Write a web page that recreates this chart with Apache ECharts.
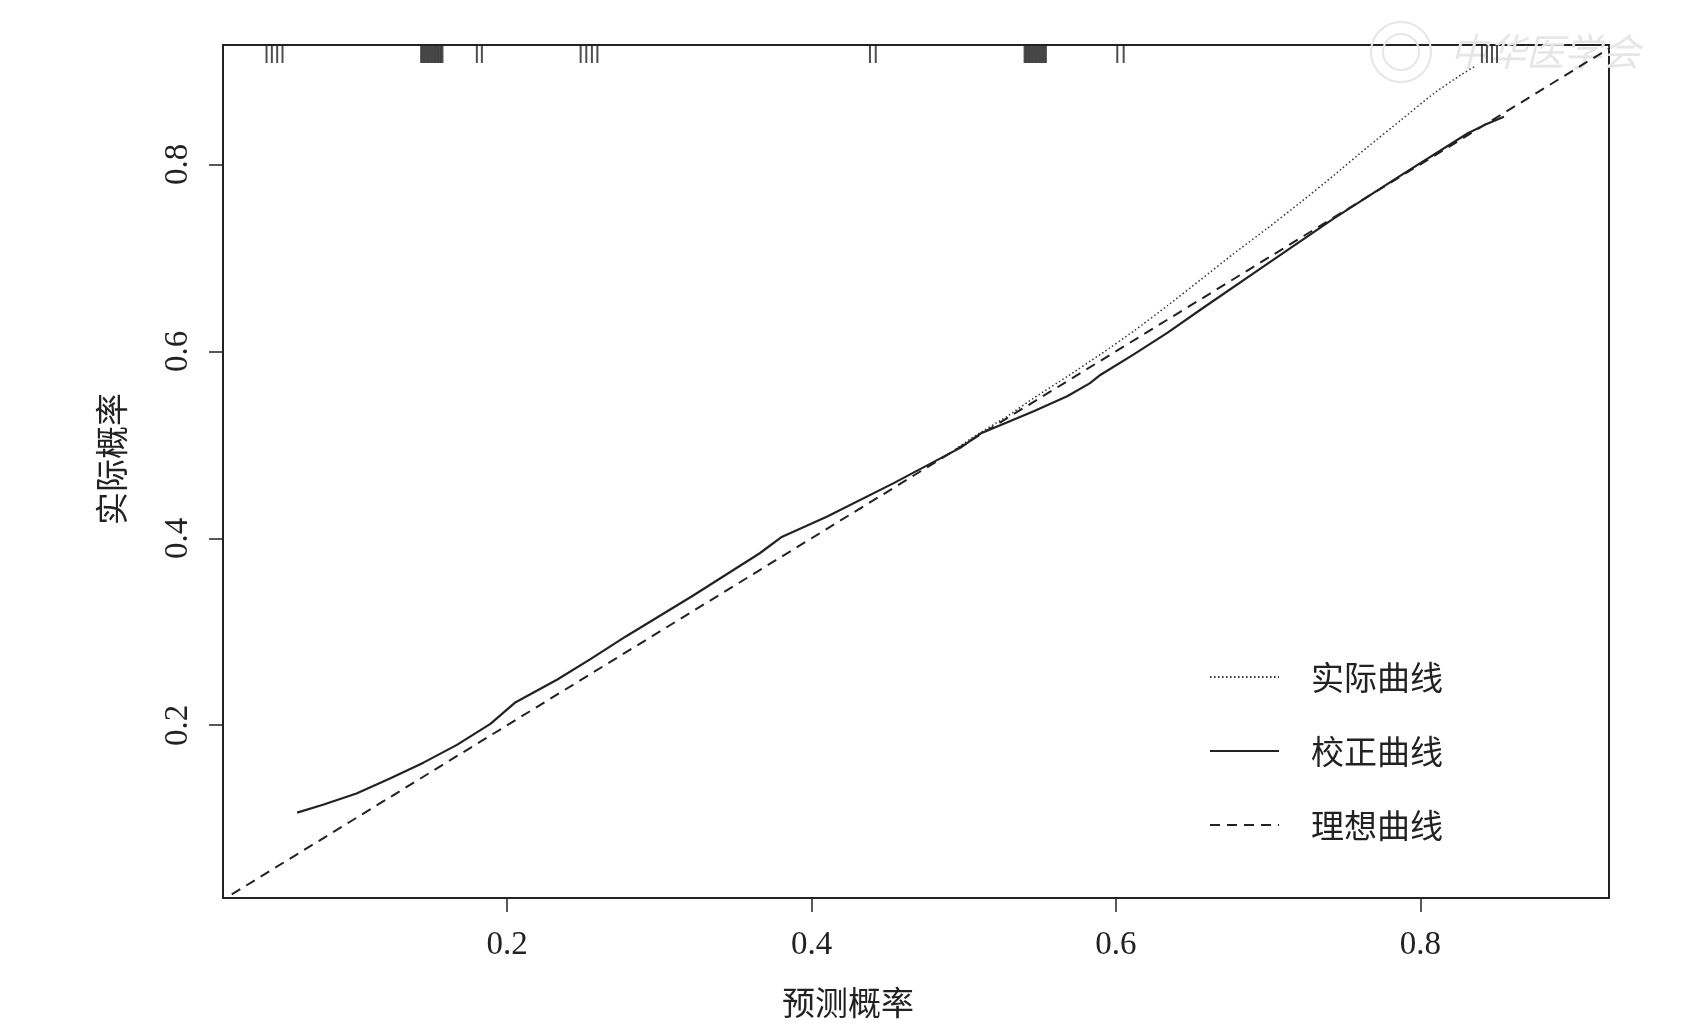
<!DOCTYPE html>
<html>
<head>
<meta charset="utf-8">
<title>校准曲线</title>
<script src="https://cdn.jsdelivr.net/npm/echarts@6/dist/echarts.min.js"></script>
<style>
  html, body { margin: 0; padding: 0; background: #fff; }
  #chart { width: 1690px; height: 1026px; }
</style>
</head>
<body>
<div id="chart"></div>
<script>
// values
const tickValues = [0.2, 0.4, 0.6, 0.8]

const correctedX = [0.062, 0.079, 0.101, 0.123, 0.145, 0.167, 0.189, 0.205, 0.233, 0.255, 0.278, 0.322, 0.366, 0.380, 0.410, 0.454, 0.498, 0.511, 0.546, 0.568, 0.583, 0.590, 0.612, 0.634, 0.656, 0.699, 0.743, 0.787, 0.831, 0.842, 0.855]
const correctedY = [0.1065, 0.115, 0.127, 0.143, 0.160, 0.179, 0.2015, 0.224, 0.249, 0.271, 0.295, 0.3385, 0.384, 0.401, 0.423, 0.459, 0.497, 0.512, 0.536, 0.552, 0.566, 0.575, 0.597, 0.620, 0.645, 0.693, 0.742, 0.788, 0.833, 0.842, 0.851]

const apparentX = [0.490, 0.505, 0.528, 0.546, 0.568, 0.590, 0.612, 0.634, 0.656, 0.677, 0.699, 0.721, 0.743, 0.765, 0.787, 0.809, 0.827, 0.836]
const apparentY = [0.490, 0.507, 0.530, 0.550, 0.573, 0.597, 0.622, 0.649, 0.677, 0.704, 0.731, 0.759, 0.788, 0.818, 0.847, 0.876, 0.896, 0.905]

const idealX = [0, 1]
const idealY = [0, 1]

// rug of predicted probabilities along the top edge
const rugX = [
  0.0419, 0.0454, 0.0489, 0.0524,
  0.1435, 0.1445, 0.1455, 0.1465, 0.1475, 0.1485, 0.1495, 0.1505, 0.1515, 0.1525, 0.1535, 0.1545, 0.1555, 0.1565, 0.1575,
  0.1801, 0.1834,
  0.2483, 0.2520, 0.2557, 0.2593,
  0.4384, 0.4422,
  0.5400, 0.5410, 0.5420, 0.5430, 0.5440, 0.5450, 0.5460, 0.5470, 0.5480, 0.5490, 0.5500, 0.5510, 0.5520, 0.5530, 0.5540,
  0.6009, 0.6051,
  0.8405, 0.8438, 0.8471, 0.8504
]

const xMin = 0.0133
const xMax = 0.924
const yMin = 0.0152
const yMax = 0.9277

const zip = (xs, ys) => xs.map((x, i) => [x, ys[i]])

const serif = '"Liberation Serif", "Times New Roman", serif'
const cjk = '"Noto Sans CJK SC", sans-serif'
const ink = '#222'

const chart = echarts.init(document.getElementById('chart'))

const option = {
  backgroundColor: '#fff',
  animation: false,
  grid: {
    left: 223,
    top: 45,
    right: 81,
    bottom: 128,
    show: true,
    borderColor: ink,
    borderWidth: 2
  },
  legend: {
    orient: 'vertical',
    left: 1204,
    top: 655,
    itemWidth: 69,
    itemHeight: 20,
    itemGap: 40,
    // only the line in the key, no marker
    itemStyle: { opacity: 0 },
    data: ['实际曲线', '校正曲线', '理想曲线'],
    textStyle: {
      fontFamily: cjk,
      fontSize: 33,
      lineHeight: 34,
      color: ink,
      padding: [0, 0, 0, 27]
    }
  },
  xAxis: {
    type: 'value',
    min: xMin,
    max: xMax,
    splitLine: { show: false },
    axisLine: { show: false },
    axisTick: {
      show: true,
      customValues: tickValues,
      length: 14,
      lineStyle: { color: ink, width: 1.5 }
    },
    axisLabel: {
      customValues: tickValues,
      formatter: v => v.toFixed(1),
      margin: 31,
      fontFamily: serif,
      fontSize: 33,
      color: ink
    }
  },
  yAxis: {
    type: 'value',
    min: yMin,
    max: yMax,
    splitLine: { show: false },
    axisLine: { show: false },
    axisTick: {
      show: true,
      customValues: tickValues,
      length: 14,
      lineStyle: { color: ink, width: 1.5 }
    },
    axisLabel: {
      customValues: tickValues,
      formatter: v => v.toFixed(1),
      rotate: 90,
      margin: 28,
      fontFamily: serif,
      fontSize: 33,
      color: ink
    }
  },
  graphic: [
    {
      type: 'text',
      x: 848,
      y: 1002,
      style: {
        text: '预测概率',
        fontFamily: cjk,
        fontSize: 33,
        fill: ink,
        align: 'center',
        verticalAlign: 'middle'
      }
    },
    {
      type: 'text',
      x: 111,
      y: 459,
      rotation: Math.PI / 2,
      style: {
        text: '实际概率',
        fontFamily: cjk,
        fontSize: 33,
        fill: ink,
        align: 'center',
        verticalAlign: 'middle'
      }
    },
    // faint watermark in the top right corner
    {
      type: 'group',
      silent: true,
      z: -10,
      children: [
        {
          type: 'circle',
          shape: { cx: 1401, cy: 52, r: 30 },
          style: { fill: 'none', stroke: '#e6e6e6', lineWidth: 2 }
        },
        {
          type: 'circle',
          shape: { cx: 1401, cy: 52, r: 18 },
          style: { fill: 'none', stroke: '#e6e6e6', lineWidth: 2 }
        },
        {
          type: 'text',
          x: 1450,
          y: 52,
          style: {
            text: '中华医学会',
            fontFamily: cjk,
            fontSize: 38,
            fontStyle: 'italic',
            fill: '#e6e6e6',
            verticalAlign: 'middle'
          }
        }
      ]
    }
  ],
  series: [
    {
      name: '实际曲线',
      type: 'line',
      symbol: 'none',
      smooth: 0.2,
      data: zip(apparentX, apparentY),
      lineStyle: { color: '#333', width: 1.5, type: [1.5, 2.5] },
      itemStyle: { color: '#333' },
      z: 3
    },
    {
      name: '校正曲线',
      type: 'line',
      symbol: 'none',
      data: zip(correctedX, correctedY),
      lineStyle: { color: ink, width: 2.2, type: 'solid' },
      itemStyle: { color: ink },
      z: 4
    },
    {
      name: '理想曲线',
      type: 'line',
      symbol: 'none',
      clip: true,
      data: zip(idealX, idealY),
      lineStyle: { color: ink, width: 2, type: [10, 7] },
      itemStyle: { color: ink },
      z: 3
    },
    {
      name: 'rug',
      type: 'scatter',
      symbol: 'rect',
      symbolSize: [2, 18],
      symbolOffset: [0, 9],
      clip: false,
      data: rugX.map(x => [x, yMax]),
      itemStyle: { color: ink },
      z: 5
    }
  ]
}

chart.setOption(option)
</script>
</body>
</html>
